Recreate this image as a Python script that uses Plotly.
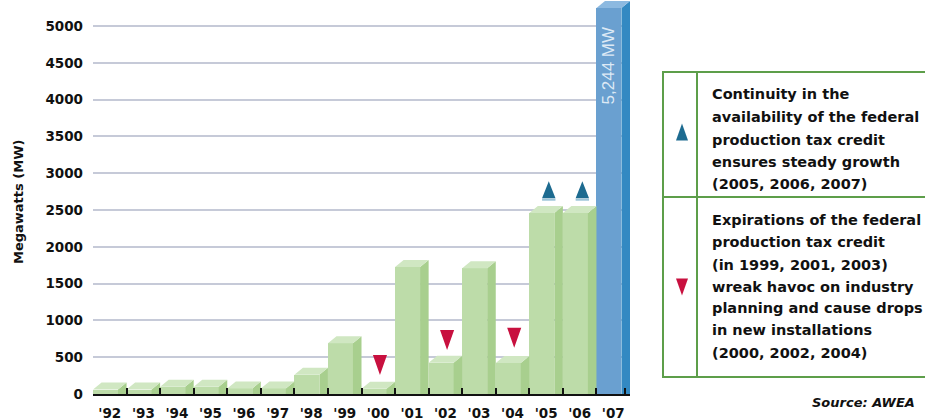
import plotly.graph_objects as go

# ---------------- data ----------------
years = ["'92", "'93", "'94", "'95", "'96", "'97", "'98", "'99",
         "'00", "'01", "'02", "'03", "'04", "'05", "'06", "'07"]
capacity_mw = [60, 60, 100, 100, 75, 75, 260, 690,
               70, 1725, 425, 1710, 420, 2460, 2460, 5244]
highlight_year = "'07"

up_years = ["'05", "'06"]
up_level = [2660, 2660]
down_years = ["'00", "'02", "'04"]
down_level = [530, 870, 900]

y_ticks = [0, 500, 1000, 1500, 2000, 2500, 3000, 3500, 4000, 4500, 5000]

legend_up_lines = ["Continuity in the", "availability of the federal",
                   "production tax credit", "ensures steady growth",
                   "(2005, 2006, 2007)"]
legend_down_lines = ["Expirations of the federal", "production tax credit",
                     "(in 1999, 2001, 2003)", "wreak havoc on industry",
                     "planning and cause drops", "in new installations",
                     "(2000, 2002, 2004)"]
source_text = "Source: AWEA"
y_title = "Megawatts (MW)"

# ---------------- geometry / style ----------------
W, H = 925, 420
L, R_PX, T, B = 93, 630, 0, 394          # plot area in pixels
Y_MAX = 5353
PX_Y = (B - T) / Y_MAX
DEPTH_Y = 7 / PX_Y                        # 3D depth in data units (vertical)
FRONT_W = 0.745                           # front face width (slot = 1)

GREEN = dict(front="#bddca9", side="#a8cf8e", top="#d0e7c2")
BLUE = dict(front="#6aa0d0", side="#3389c2", top="#8cb9e0")
RED_TRI = "#c8103f"
BLUE_TRI = "#1d6b90"
BOX = "#5d9e4a"
FONT = "DejaVu Sans"


def pp(x, y):
    """pixel -> paper coordinates"""
    return (x - L) / (R_PX - L), (B - y) / (B - T)


idx = list(range(len(years)))
pos = {y: i for i, y in enumerate(years)}
is_hi = [y == highlight_year for y in years]

fig = go.Figure()

# front faces
fig.add_trace(go.Bar(
    x=idx, y=capacity_mw, width=FRONT_W, offset=-0.5,
    marker=dict(color=[BLUE["front"] if h else GREEN["front"] for h in is_hi],
                line=dict(width=0)),
    hoverinfo="skip", showlegend=False))

# side and top faces
for pal, sel in ((GREEN, False), (BLUE, True)):
    sx, sy, tx, ty = [], [], [], []
    for i, v, h in zip(idx, capacity_mw, is_hi):
        if h != sel:
            continue
        a = i - 0.5 + FRONT_W
        b = i + 0.5
        sx += [a, a, b, b, a, None]
        sy += [0, v, v + DEPTH_Y, 0, 0, None]
        sh = b - a
        tx += [i - 0.5, a, b, i - 0.5 + sh, i - 0.5, None]
        ty += [v, v, v + DEPTH_Y, v + DEPTH_Y, v, None]
    fig.add_trace(go.Scatter(x=sx, y=sy, fill="toself", fillcolor=pal["side"],
                             mode="none", hoverinfo="skip", showlegend=False))
    fig.add_trace(go.Scatter(x=tx, y=ty, fill="toself", fillcolor=pal["top"],
                             mode="none", hoverinfo="skip", showlegend=False))

# up triangles
ux, uy, lx, ly = [], [], [], []
tri_h_up = 17 / PX_Y
for yr, lv in zip(up_years, up_level):
    c = pos[yr] + 0.08
    ux += [c - 0.2, c + 0.2, c, c - 0.2, None]
    uy += [lv, lv, lv + tri_h_up, lv, None]
    lx += [c - 0.2, c + 0.2, None]
    ly += [lv - 1.5 / PX_Y, lv - 1.5 / PX_Y, None]
fig.add_trace(go.Scatter(x=lx, y=ly, mode="lines", line=dict(color="#9cc4d8", width=2),
                         hoverinfo="skip", showlegend=False))
fig.add_trace(go.Scatter(x=ux, y=uy, fill="toself", fillcolor=BLUE_TRI, mode="none",
                         hoverinfo="skip", showlegend=False))

# down triangles
dx, dy = [], []
tri_h_dn = 20 / PX_Y
for yr, lv in zip(down_years, down_level):
    c = pos[yr] + 0.05
    dx += [c - 0.21, c + 0.21, c, c - 0.21, None]
    dy += [lv, lv, lv - tri_h_dn, lv, None]
fig.add_trace(go.Scatter(x=dx, y=dy, fill="toself", fillcolor=RED_TRI, mode="none",
                         hoverinfo="skip", showlegend=False))

annotations = []
# value label in highlighted bar
hi_i = pos[highlight_year]
hi_v = capacity_mw[hi_i]
annotations.append(dict(
    x=hi_i - 0.5 + FRONT_W / 2, y=hi_v - 17 / PX_Y, xref="x", yref="y",
    text=f"{hi_v:,} MW", textangle=-90, showarrow=False,
    xanchor="center", yanchor="top",
    font=dict(family="Liberation Sans", size=17, color="#dde9f5")))

# y title
tx_, ty_ = pp(18, 202)
annotations.append(dict(x=tx_, y=ty_, xref="paper", yref="paper", text=y_title,
                        textangle=-90, showarrow=False, xanchor="center", yanchor="middle",
                        font=dict(family=FONT, size=13, color="#111", weight="bold")))

# legend text
up_y = [94, 117, 140, 162, 184]
dn_y = [220, 242, 265, 287, 308, 330, 353]
for lines, ys in ((legend_up_lines, up_y), (legend_down_lines, dn_y)):
    for t, yy in zip(lines, ys):
        ax, ay = pp(710, yy)
        annotations.append(dict(x=ax, y=ay, xref="paper", yref="paper", text=t,
                                showarrow=False, xanchor="left", yanchor="middle",
                                font=dict(family=FONT, size=14.5, color="#111",
                                          weight="bold")))

sx_, sy_ = pp(917, 403)
annotations.append(dict(x=sx_, y=sy_, xref="paper", yref="paper", text=source_text,
                        showarrow=False, xanchor="right", yanchor="middle",
                        font=dict(family=FONT, size=13, color="#111",
                                  weight="bold", style="italic")))

shapes = []
# legend box
bx0, by0 = pp(663, 72)
bx1, by1 = pp(945, 377)
shapes.append(dict(type="rect", xref="paper", yref="paper", x0=bx0, y0=by1, x1=bx1, y1=by0,
                   line=dict(color=BOX, width=2), fillcolor="rgba(0,0,0,0)"))
vx, _ = pp(697, 0)
shapes.append(dict(type="line", xref="paper", yref="paper", x0=vx, x1=vx, y0=by1, y1=by0,
                   line=dict(color=BOX, width=2)))
_, hy = pp(0, 197)
shapes.append(dict(type="line", xref="paper", yref="paper", x0=bx0, x1=bx1, y0=hy, y1=hy,
                   line=dict(color=BOX, width=2)))


def tri_path(cx, cy, w, h, up):
    if up:
        pts = [(cx - w / 2, cy + h / 2), (cx + w / 2, cy + h / 2), (cx, cy - h / 2)]
    else:
        pts = [(cx - w / 2, cy - h / 2), (cx + w / 2, cy - h / 2), (cx, cy + h / 2)]
    pts = [pp(x, y) for x, y in pts]
    return "M{},{} L{},{} L{},{} Z".format(*[c for p in pts for c in p])


shapes.append(dict(type="path", xref="paper", yref="paper",
                   path=tri_path(682, 132, 12, 17, True),
                   fillcolor=BLUE_TRI, line=dict(width=0)))
shapes.append(dict(type="path", xref="paper", yref="paper",
                   path=tri_path(682, 287, 12, 17, False),
                   fillcolor=RED_TRI, line=dict(width=0)))

fig.update_layout(
    width=W, height=H,
    margin=dict(l=L, r=W - R_PX, t=T, b=H - B, pad=0),
    paper_bgcolor="white", plot_bgcolor="white",
    bargap=0, showlegend=False,
    annotations=annotations, shapes=shapes,
    xaxis=dict(range=[-0.5, 15.5], tickmode="array", tickvals=idx, ticktext=years,
               ticks="", showgrid=False, zeroline=False,
               showline=True, linecolor="#111", linewidth=2,
               tickfont=dict(family=FONT, size=13.5, color="#111", weight="bold"),
               ticklabelstandoff=6,
               minor=dict(tickmode="array", tickvals=[i + 0.5 for i in idx[:-1]] + [15.35],
                          ticks="inside", ticklen=6, tickwidth=2, tickcolor="#111",
                          showgrid=False)),
    yaxis=dict(range=[0, Y_MAX], tickmode="array", tickvals=y_ticks,
               ticktext=[str(v) for v in y_ticks],
               showgrid=True, gridcolor="#c6cad8", gridwidth=2,
               zeroline=False, showline=False, ticks="",
               ticklabelstandoff=9,
               tickfont=dict(family=FONT, size=13.5, color="#111", weight="bold")),
)

fig.write_html("out.html")
